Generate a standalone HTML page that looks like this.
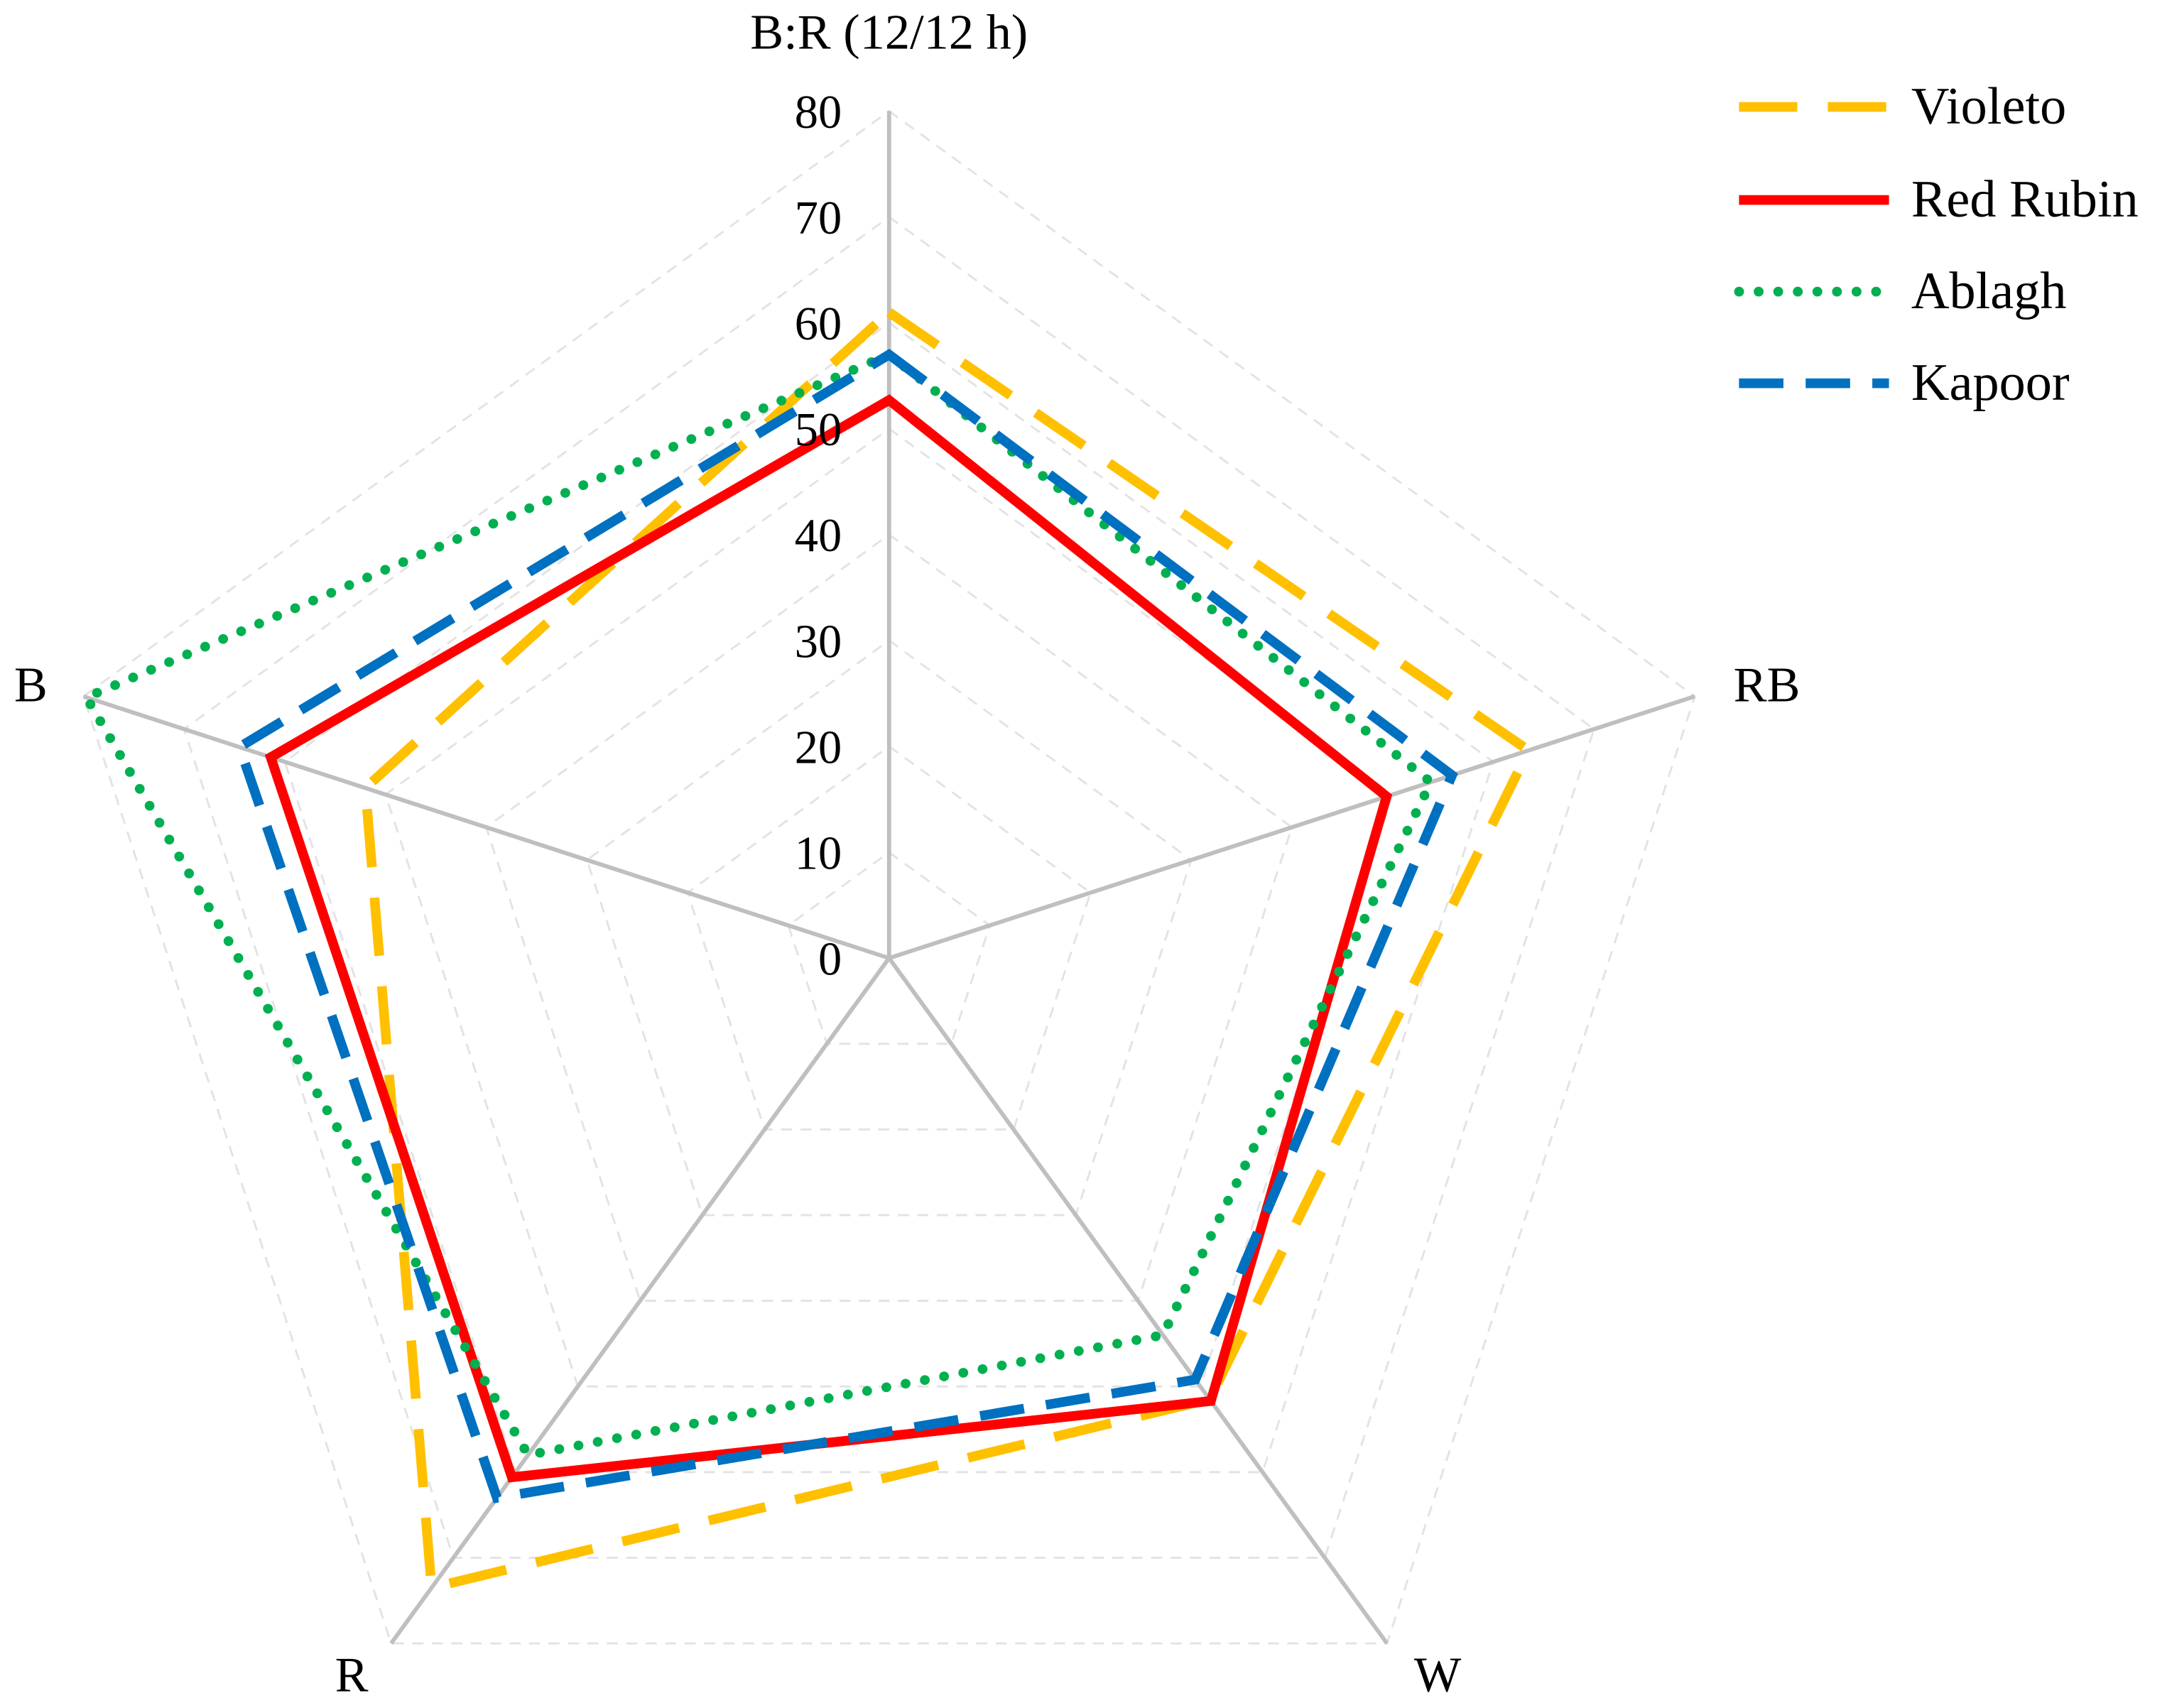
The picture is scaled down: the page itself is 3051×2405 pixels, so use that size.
<!DOCTYPE html>
<html><head><meta charset="utf-8"><style>
html,body{margin:0;padding:0;background:#fff;}
svg{display:block;}
text{font-family:"Liberation Serif",serif;fill:#000;}
</style></head><body>
<svg id="chart" width="3051" height="2405" viewBox="0 0 1560 1230" xmlns="http://www.w3.org/2000/svg">
<g id="grid"></g>
<g id="series"></g>
<g id="labels"></g>
<g id="legend"></g>
</svg>
<script>
const categories = ["B:R (12/12 h)", "RB", "W", "R", "B"];
const tickLabels = ["0","10","20","30","40","50","60","70","80"];
const seriesNames = ["Violeto","Red Rubin","Ablagh","Kapoor"];
const violeto = [61, 63.5, 51.5, 73.5, 52];
const redRubin = [52.7, 49.4, 51.7, 60.6, 61.4];
const ablagh = [57, 53.8, 44, 58, 79.7];
const kapoor = [57, 55.9, 49.2, 63, 64.5];
const maxVal = 80;

const NS="http://www.w3.org/2000/svg";
const cx=640, cy=690, R=610;
function pt(i,v){const a=(-90+72*i)*Math.PI/180;const r=v/maxVal*R;return [cx+r*Math.cos(a),cy+r*Math.sin(a)];}
function mk(tag,attrs,parent){const e=document.createElementNS(NS,tag);for(const k in attrs)e.setAttribute(k,attrs[k]);parent.appendChild(e);return e;}
const grid=document.getElementById('grid');
for(let t=1;t<tickLabels.length;t++){
  const v=+tickLabels[t];
  const pts=categories.map((c,i)=>pt(i,v).join(',')).join(' ');
  const p=mk('polygon',{points:pts,fill:'none',stroke:'#e3e3e3','stroke-width':1.5,'stroke-dasharray':'8 6'},grid);
  
  
}
categories.forEach((c,i)=>{
  const [x,y]=pt(i,maxVal);
  const l=mk('line',{x1:cx,y1:cy,x2:x,y2:y,stroke:'#bfbfbf','stroke-width':3},grid);
  
  
});
const labels=document.getElementById('labels');
tickLabels.forEach(t=>{
  const [x,y]=pt(0,+t);
  const e=mk('text',{x:606,y:y+12,'font-size':34,'text-anchor':'end'},labels);
  e.textContent=t;
  
  
});
const catPos=[[640,35,'middle'],[1248,505,'start'],[1035,1218,'middle'],[253,1218,'middle'],[22,505,'middle']];
categories.forEach((c,i)=>{
  const e=mk('text',{x:catPos[i][0],y:catPos[i][1],'font-size':36,'text-anchor':catPos[i][2]},labels);
  e.textContent=c;
  
  
});
const styles=[
  {stroke:'#ffc000',dash:'42 22',cap:'butt'},
  {stroke:'#ff0000',dash:'',cap:'butt'},
  {stroke:'#00b050',dash:'0.1 14',cap:'round'},
  {stroke:'#0070c0',dash:'32 16',cap:'butt'}];
const data=[violeto,redRubin,ablagh,kapoor];
const sg=document.getElementById('series');
data.forEach((d,s)=>{
  const pts=d.map((v,i)=>pt(i,v).join(',')).join(' ');
  const attrs={points:pts,fill:'none',stroke:styles[s].stroke,'stroke-width':7,'stroke-linecap':styles[s].cap,'stroke-linejoin':'miter'};
  if(styles[s].dash)attrs['stroke-dasharray']=styles[s].dash;
  const p=mk('polygon',attrs,sg);
  
  
});
const lg=document.getElementById('legend');
const ly=[77,144,210,276];
seriesNames.forEach((n,s)=>{
  const attrs={x1:1252,y1:ly[s],x2:1360,y2:ly[s],stroke:styles[s].stroke,'stroke-width':7,'stroke-linecap':styles[s].cap};
  if(styles[s].dash)attrs['stroke-dasharray']=styles[s].dash;
  const l=mk('line',attrs,lg);
  
  
  const t=mk('text',{x:1376,y:ly[s]+12,'font-size':38},lg);
  t.textContent=n;
  
  
});
</script>
</body></html>
